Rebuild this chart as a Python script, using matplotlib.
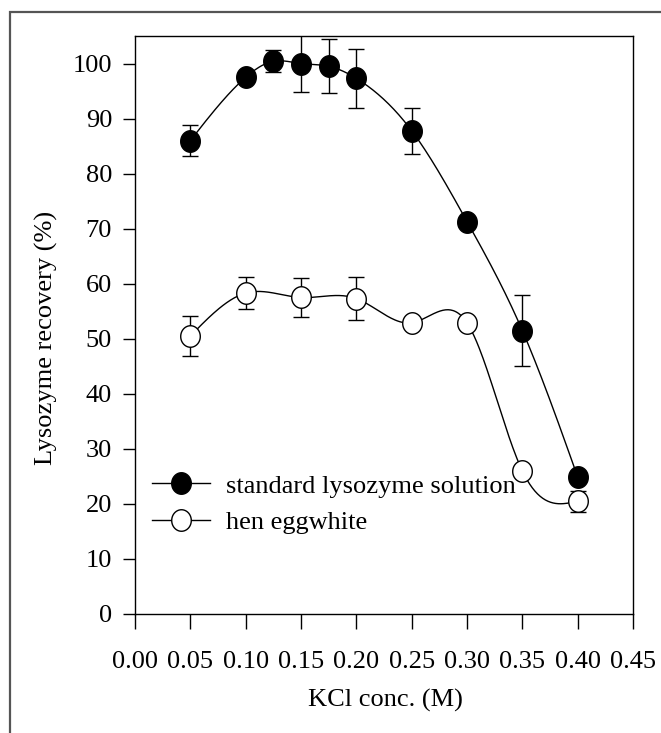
import numpy as np
import matplotlib
matplotlib.use("Agg")
import matplotlib.pyplot as plt
from matplotlib.patches import Rectangle
from matplotlib.path import Path

plt.rcParams['font.family'] = ['Liberation Serif', 'DejaVu Serif']

# KCl concentration (M)
kcl_std = [0.05, 0.10, 0.125, 0.15, 0.175, 0.20, 0.25, 0.30, 0.35, 0.40]
rec_std = [86.0, 97.5, 100.4, 100.0, 99.5, 97.3, 87.8, 71.3, 51.5, 24.9]
err_std = [2.8, 0.8, 2.0, 5.1, 4.9, 5.3, 4.2, 0.8, 6.4, 1.0]

kcl_egg = [0.05, 0.10, 0.15, 0.20, 0.25, 0.30, 0.35, 0.40]
rec_egg = [50.5, 58.3, 57.5, 57.3, 52.9, 52.9, 26.0, 20.5]
err_egg = [3.6, 2.9, 3.5, 3.9, 0.8, 0.8, 0.8, 1.9]

xticks = [0.00, 0.05, 0.10, 0.15, 0.20, 0.25, 0.30, 0.35, 0.40, 0.45]
yticks = [0, 10, 20, 30, 40, 50, 60, 70, 80, 90, 100]

FS = 19


def spline(x, y, n=300):
    # natural cubic spline, nothing fancy
    x = np.asarray(x, float)
    y = np.asarray(y, float)
    k = len(x)
    h = np.diff(x)
    A = np.zeros((k, k))
    b = np.zeros(k)
    A[0, 0] = 1
    A[-1, -1] = 1
    for i in range(1, k - 1):
        A[i, i - 1] = h[i - 1]
        A[i, i] = 2 * (h[i - 1] + h[i])
        A[i, i + 1] = h[i]
        b[i] = 6 * ((y[i + 1] - y[i]) / h[i] - (y[i] - y[i - 1]) / h[i - 1])
    m = np.linalg.solve(A, b)
    xs = np.linspace(x[0], x[-1], n)
    idx = np.clip(np.searchsorted(x, xs) - 1, 0, k - 2)
    t0 = xs - x[idx]
    t1 = x[idx + 1] - xs
    hh = h[idx]
    ys = (m[idx] * t1 ** 3 + m[idx + 1] * t0 ** 3) / (6 * hh) \
        + (y[idx] / hh - m[idx] * hh / 6) * t1 \
        + (y[idx + 1] / hh - m[idx + 1] * hh / 6) * t0
    return xs, ys


# slightly tall circle, like the scanned markers
th = np.linspace(0, 2 * np.pi, 60)
oval = Path(np.column_stack([np.cos(th), 1.1 * np.sin(th)]), closed=True)

fig = plt.figure(figsize=(6.61, 7.33), dpi=100)
ax = fig.add_axes([135 / 661, 1 - 614 / 733, 498 / 661, 578 / 733])

# scan frame: only left and top edges fall inside the picture
fig.patches.append(Rectangle((10 / 661, -0.05), 1.0, 1.05 - 12 / 733,
                             transform=fig.transFigure, fill=False,
                             edgecolor='#555555', linewidth=1.6))

xs, ys = spline(kcl_std, rec_std)
ax.plot(xs, ys, color='black', lw=1.0, zorder=2)
xs, ys = spline(kcl_egg, rec_egg)
ax.plot(xs, ys, color='black', lw=1.0, zorder=2)

ax.errorbar(kcl_std, rec_std, yerr=err_std, fmt='none', ecolor='black',
            elinewidth=1.0, capsize=5.5, capthick=1.0, zorder=3)
ax.errorbar(kcl_egg, rec_egg, yerr=err_egg, fmt='none', ecolor='black',
            elinewidth=1.0, capsize=5.5, capthick=1.0, zorder=3)

ax.plot(kcl_std, rec_std, ls='none', marker=oval, ms=15.5, mfc='black',
        mec='black', zorder=4)
ax.plot(kcl_egg, rec_egg, ls='none', marker=oval, ms=15.5, mfc='white',
        mec='black', mew=1.0, zorder=4)

h1, = ax.plot([], [], color='black', lw=1.0, marker=oval, ms=15.5,
              mfc='black', mec='black')
h2, = ax.plot([], [], color='black', lw=1.0, marker=oval, ms=15.5,
              mfc='white', mec='black', mew=1.0)
ax.legend([h1, h2], ['standard lysozyme solution', 'hen eggwhite'],
          loc='center left', bbox_to_anchor=(0.034, 0.19), frameon=False,
          fontsize=FS, handlelength=2.2, handletextpad=0.6,
          labelspacing=0.5, borderpad=0, borderaxespad=0)

ax.set_xlim(0, 0.45)
ax.set_ylim(0, 105)
ax.set_xticks(xticks)
ax.set_xticklabels(['%.2f' % v for v in xticks])
ax.set_yticks(yticks)
ax.tick_params(axis='x', direction='out', length=11, width=1.0, pad=16,
               labelsize=FS)
ax.tick_params(axis='y', direction='out', length=8.5, width=1.0, pad=8,
               labelsize=FS)
for s in ax.spines.values():
    s.set_linewidth(1.0)

ax.set_xlabel('KCl conc. (M)', fontsize=FS)
ax.xaxis.set_label_coords(0.502, -0.130)
ax.set_ylabel('Lysozyme recovery (%)', fontsize=FS)
ax.yaxis.set_label_coords(-0.155, 0.478)

fig.savefig('out.png', dpi=100)
